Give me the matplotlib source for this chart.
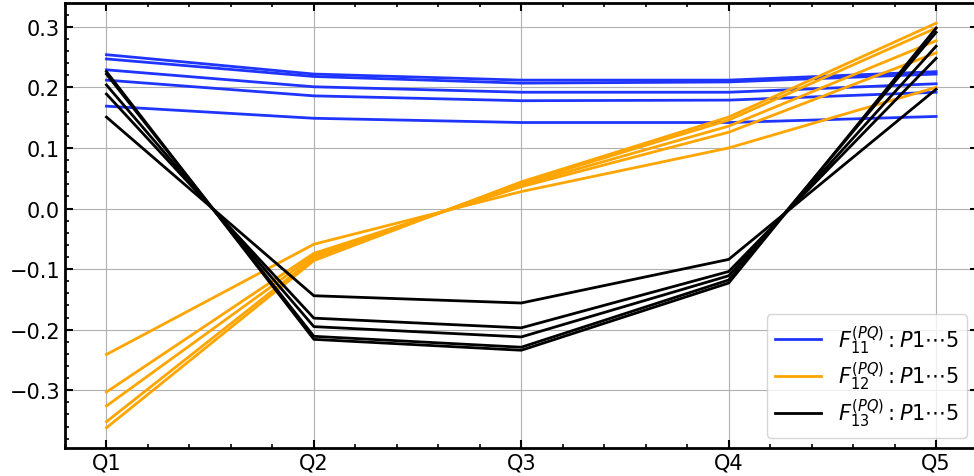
import matplotlib
matplotlib.use('Agg')
import matplotlib.pyplot as plt
from matplotlib.ticker import AutoMinorLocator

quarters = ['Q1', 'Q2', 'Q3', 'Q4', 'Q5']

# F11 lines P1..P5
f11 = [
    [0.254, 0.222, 0.212, 0.212, 0.226],
    [0.247, 0.218, 0.207, 0.209, 0.222],
    [0.229, 0.201, 0.192, 0.192, 0.206],
    [0.212, 0.186, 0.178, 0.179, 0.192],
    [0.169, 0.149, 0.142, 0.142, 0.152],
]

# F12 lines P1..P5
f12 = [
    [-0.241, -0.059, 0.028, 0.100, 0.200],
    [-0.303, -0.074, 0.036, 0.126, 0.257],
    [-0.326, -0.078, 0.039, 0.136, 0.277],
    [-0.352, -0.082, 0.042, 0.146, 0.298],
    [-0.362, -0.086, 0.044, 0.151, 0.306],
]

# F13 lines P1..P5
f13 = [
    [0.151, -0.144, -0.156, -0.084, 0.197],
    [0.189, -0.181, -0.197, -0.104, 0.248],
    [0.204, -0.195, -0.212, -0.111, 0.268],
    [0.222, -0.211, -0.229, -0.118, 0.291],
    [0.226, -0.216, -0.234, -0.123, 0.298],
]

x = list(range(len(quarters)))

fig = plt.figure(figsize=(9.74, 4.77), dpi=100)
ax = fig.add_axes([0.0667, 0.0587, 0.937, 0.933])

groups = [(f11, '#1f35ff', r'$F_{11}^{(PQ)}:P1\cdots5$'),
          (f12, 'orange', r'$F_{12}^{(PQ)}:P1\cdots5$'),
          (f13, 'black', r'$F_{13}^{(PQ)}:P1\cdots5$')]

for lines, color, label in groups:
    for i, vals in enumerate(lines):
        ax.plot(x, vals, color=color, lw=2, label=label if i == 0 else None)

ax.set_xticks(x)
ax.set_xticklabels(quarters)
ax.xaxis.set_minor_locator(AutoMinorLocator(5))
ax.yaxis.set_minor_locator(AutoMinorLocator(5))
ax.tick_params(which='both', direction='in', top=True, right=True, labelsize=15)
ax.tick_params(which='major', length=6, width=1.5)
ax.tick_params(which='minor', length=3, width=1.2)
for s in ax.spines.values():
    s.set_linewidth(2)
ax.grid(True, which='major', color='#b0b0b0', lw=0.8)

ax.legend(loc='lower right', fontsize=15, handlelength=2.2, labelspacing=0.2)

fig.savefig('out.png', dpi=100)
